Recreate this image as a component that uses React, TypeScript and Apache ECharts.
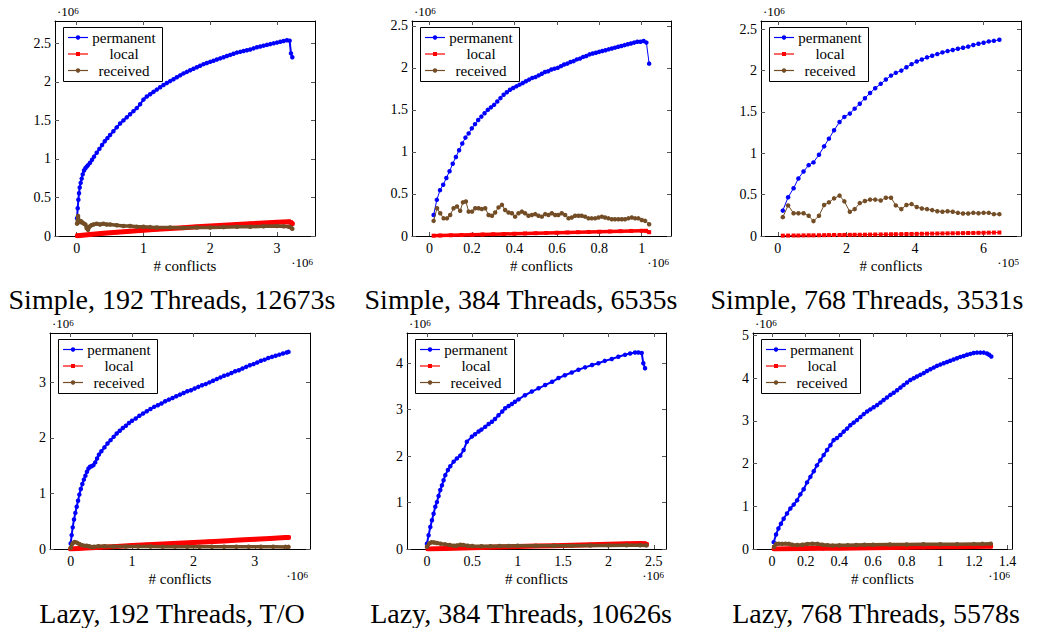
import React, { useEffect, useRef } from "react";
import * as echarts from "echarts";

const FONT = "Liberation Serif";
const BLUE = "#0000ff";
const RED = "#ff0000";
const BROWN = "#734d26";

// ---------- Data (x in units of the axis multiplier, y in 10^6) ----------
// Panel 1: Simple, 192 Threads (x ·10^6)
const p1Permanent = [[0.005,0.23],[0.015,0.36],[0.025,0.47],[0.035,0.555],[0.045,0.63],[0.06,0.69],[0.075,0.745],[0.09,0.8],[0.11,0.85],[0.13,0.88],[0.15,0.9],[0.17,0.92],[0.2,0.95],[0.23,0.99],[0.26,1.03],[0.3,1.08],[0.34,1.13],[0.38,1.18],[0.42,1.23],[0.46,1.27],[0.5,1.31],[0.55,1.36],[0.6,1.41],[0.65,1.46],[0.7,1.5],[0.75,1.54],[0.8,1.58],[0.85,1.62],[0.9,1.66],[0.95,1.71],[1.0,1.77],[1.05,1.81],[1.1,1.84],[1.15,1.87],[1.2,1.9],[1.25,1.93],[1.3,1.96],[1.35,1.985],[1.4,2.01],[1.45,2.035],[1.5,2.06],[1.55,2.085],[1.6,2.11],[1.65,2.13],[1.7,2.15],[1.75,2.17],[1.8,2.19],[1.85,2.21],[1.9,2.23],[1.95,2.245],[2.0,2.26],[2.05,2.275],[2.1,2.29],[2.15,2.305],[2.2,2.32],[2.25,2.335],[2.3,2.35],[2.35,2.365],[2.4,2.38],[2.45,2.39],[2.5,2.4],[2.55,2.41],[2.6,2.42],[2.65,2.435],[2.7,2.45],[2.75,2.46],[2.8,2.47],[2.85,2.48],[2.9,2.49],[2.95,2.5],[3.0,2.51],[3.05,2.52],[3.1,2.53],[3.15,2.54],[3.19,2.535],[3.21,2.37],[3.23,2.32]];
const p1Local = [[0.01,0.004],[0.2,0.02],[0.4,0.035],[0.6,0.049],[0.8,0.063],[1.0,0.076],[1.2,0.087],[1.4,0.098],[1.6,0.108],[1.8,0.119],[2.0,0.129],[2.2,0.139],[2.4,0.148],[2.6,0.158],[2.8,0.168],[3.0,0.178],[3.1,0.183],[3.18,0.186],[3.21,0.175],[3.23,0.16]];
const p1Received = [[0.005,0.16],[0.02,0.26],[0.035,0.2],[0.05,0.18],[0.07,0.19],[0.09,0.17],[0.11,0.16],[0.13,0.15],[0.15,0.1],[0.17,0.08],[0.19,0.12],[0.22,0.14],[0.25,0.15],[0.3,0.16],[0.35,0.15],[0.4,0.16],[0.45,0.15],[0.5,0.15],[0.6,0.14],[0.7,0.13],[0.8,0.13],[0.9,0.12],[1.0,0.12],[1.1,0.115],[1.2,0.11],[1.4,0.11],[1.6,0.105],[1.8,0.11],[2.0,0.11],[2.2,0.115],[2.4,0.12],[2.6,0.12],[2.8,0.125],[3.0,0.13],[3.1,0.125],[3.18,0.12],[3.21,0.11],[3.23,0.095]];

// Panel 2: Simple, 384 Threads (x ·10^6)
const p2Permanent = [[0.019,0.25],[0.034,0.43],[0.049,0.545],[0.064,0.61],[0.079,0.69],[0.094,0.77],[0.109,0.86],[0.124,0.94],[0.139,1.02],[0.154,1.1],[0.169,1.17],[0.184,1.22],[0.199,1.28],[0.214,1.33],[0.229,1.38],[0.244,1.42],[0.259,1.46],[0.274,1.5],[0.289,1.53],[0.304,1.56],[0.319,1.6],[0.334,1.64],[0.349,1.68],[0.364,1.71],[0.379,1.74],[0.394,1.76],[0.409,1.78],[0.424,1.8],[0.439,1.82],[0.454,1.84],[0.469,1.86],[0.484,1.88],[0.499,1.89],[0.514,1.91],[0.529,1.93],[0.544,1.95],[0.559,1.96],[0.574,1.98],[0.589,1.99],[0.604,2.0],[0.619,2.02],[0.634,2.04],[0.649,2.05],[0.664,2.07],[0.679,2.08],[0.694,2.1],[0.709,2.11],[0.724,2.13],[0.739,2.14],[0.754,2.16],[0.769,2.17],[0.784,2.18],[0.799,2.19],[0.814,2.2],[0.829,2.21],[0.844,2.22],[0.859,2.23],[0.874,2.24],[0.889,2.25],[0.904,2.26],[0.919,2.27],[0.934,2.28],[0.949,2.29],[0.964,2.3],[0.979,2.31],[0.994,2.31],[1.009,2.32],[1.022,2.3],[1.035,2.05]];
const p2Local = [[0.019,0.004],[0.05,0.006],[0.1,0.009],[0.15,0.012],[0.2,0.015],[0.25,0.018],[0.3,0.021],[0.35,0.024],[0.4,0.027],[0.45,0.03],[0.5,0.033],[0.55,0.036],[0.6,0.039],[0.65,0.042],[0.7,0.045],[0.75,0.048],[0.8,0.051],[0.85,0.054],[0.9,0.057],[0.95,0.06],[1.0,0.062],[1.02,0.062],[1.035,0.045]];
const p2Received = [[0.019,0.18],[0.035,0.33],[0.05,0.27],[0.066,0.21],[0.082,0.21],[0.097,0.25],[0.113,0.33],[0.129,0.35],[0.144,0.3],[0.157,0.4],[0.171,0.41],[0.184,0.29],[0.2,0.29],[0.215,0.33],[0.231,0.33],[0.246,0.32],[0.262,0.33],[0.278,0.25],[0.294,0.24],[0.309,0.28],[0.325,0.34],[0.341,0.37],[0.356,0.31],[0.372,0.28],[0.388,0.27],[0.403,0.23],[0.419,0.27],[0.435,0.29],[0.45,0.27],[0.466,0.24],[0.482,0.25],[0.498,0.26],[0.513,0.24],[0.529,0.23],[0.545,0.26],[0.56,0.25],[0.576,0.27],[0.592,0.25],[0.607,0.25],[0.623,0.27],[0.639,0.25],[0.655,0.21],[0.67,0.22],[0.686,0.24],[0.702,0.24],[0.717,0.24],[0.733,0.23],[0.749,0.21],[0.764,0.21],[0.78,0.21],[0.796,0.22],[0.812,0.23],[0.827,0.22],[0.843,0.21],[0.859,0.2],[0.874,0.2],[0.89,0.2],[0.906,0.2],[0.921,0.2],[0.937,0.21],[0.953,0.22],[0.969,0.21],[0.984,0.21],[1.0,0.19],[1.016,0.18],[1.035,0.14]];

// Panel 3: Simple, 768 Threads (x ·10^5)
const p3Conflicts = [0.146,0.3,0.46,0.6,0.75,0.9,1.04,1.2,1.35,1.49,1.64,1.8,1.94,2.1,2.24,2.39,2.54,2.69,2.84,3.0,3.15,3.3,3.44,3.6,3.75,3.9,4.05,4.2,4.35,4.5,4.65,4.8,4.95,5.1,5.25,5.4,5.55,5.7,5.85,6.0,6.15,6.3,6.46];
const p3PermanentY = [0.307,0.469,0.578,0.696,0.78,0.857,0.89,0.983,1.084,1.177,1.278,1.379,1.44,1.48,1.54,1.6,1.666,1.73,1.787,1.84,1.892,1.94,1.973,2.0,2.04,2.078,2.11,2.135,2.16,2.18,2.2,2.22,2.236,2.25,2.264,2.276,2.29,2.31,2.325,2.337,2.353,2.36,2.373];
const p3LocalY = [0.004,0.005,0.006,0.006,0.007,0.008,0.008,0.009,0.01,0.011,0.012,0.012,0.013,0.014,0.015,0.015,0.016,0.017,0.018,0.019,0.02,0.021,0.022,0.023,0.024,0.025,0.026,0.027,0.028,0.029,0.03,0.031,0.032,0.033,0.034,0.035,0.036,0.037,0.038,0.039,0.04,0.041,0.042];
const p3ReceivedY = [0.228,0.37,0.276,0.276,0.276,0.244,0.18,0.244,0.374,0.407,0.455,0.488,0.419,0.293,0.325,0.398,0.423,0.44,0.44,0.43,0.463,0.463,0.37,0.325,0.374,0.386,0.35,0.333,0.325,0.313,0.3,0.293,0.3,0.293,0.28,0.272,0.272,0.28,0.276,0.28,0.28,0.264,0.264];

// Panel 4: Lazy, 192 Threads (x ·10^6)
const p4Permanent = [[0.0,0.1],[0.016,0.25],[0.033,0.39],[0.054,0.53],[0.076,0.65],[0.098,0.76],[0.12,0.87],[0.141,0.98],[0.165,1.08],[0.19,1.17],[0.215,1.25],[0.24,1.32],[0.265,1.39],[0.29,1.45],[0.315,1.48],[0.34,1.49],[0.37,1.51],[0.4,1.56],[0.43,1.63],[0.46,1.7],[0.5,1.76],[0.55,1.83],[0.6,1.9],[0.65,1.96],[0.7,2.02],[0.75,2.08],[0.8,2.13],[0.85,2.18],[0.9,2.22],[0.95,2.27],[1.0,2.31],[1.06,2.35],[1.12,2.4],[1.18,2.44],[1.24,2.48],[1.3,2.52],[1.36,2.56],[1.42,2.59],[1.48,2.62],[1.54,2.66],[1.6,2.69],[1.66,2.72],[1.72,2.75],[1.78,2.78],[1.84,2.81],[1.9,2.84],[1.96,2.86],[2.02,2.89],[2.08,2.92],[2.14,2.95],[2.2,2.97],[2.26,3.0],[2.32,3.03],[2.38,3.06],[2.44,3.09],[2.5,3.12],[2.56,3.14],[2.62,3.17],[2.68,3.2],[2.74,3.22],[2.8,3.25],[2.86,3.28],[2.92,3.31],[2.98,3.33],[3.04,3.36],[3.1,3.39],[3.16,3.41],[3.22,3.44],[3.28,3.46],[3.34,3.48],[3.4,3.5],[3.46,3.52],[3.52,3.54],[3.55,3.55]];
const p4Local = [[0.0,0.0],[0.25,0.018],[0.5,0.033],[0.75,0.047],[1.0,0.062],[1.25,0.076],[1.5,0.09],[1.75,0.104],[2.0,0.118],[2.25,0.132],[2.5,0.146],[2.75,0.16],[3.0,0.174],[3.25,0.19],[3.5,0.205],[3.55,0.208]];
const p4Received = [[0.0,0.02],[0.03,0.1],[0.06,0.125],[0.1,0.115],[0.14,0.09],[0.18,0.07],[0.22,0.06],[0.26,0.06],[0.3,0.05],[0.34,0.035],[0.38,0.04],[0.45,0.05],[0.55,0.05],[0.7,0.045],[0.9,0.045],[1.1,0.045],[1.3,0.045],[1.5,0.042],[1.7,0.042],[1.9,0.04],[2.1,0.04],[2.3,0.04],[2.5,0.04],[2.7,0.04],[2.9,0.04],[3.1,0.04],[3.3,0.04],[3.5,0.038],[3.55,0.038]];

// Panel 5: Lazy, 384 Threads (x ·10^6)
const p5Permanent = [[0.0,0.115],[0.018,0.295],[0.037,0.475],[0.055,0.62],[0.073,0.76],[0.092,0.91],[0.11,1.01],[0.128,1.14],[0.147,1.27],[0.165,1.37],[0.183,1.48],[0.202,1.59],[0.231,1.7],[0.257,1.78],[0.294,1.88],[0.33,1.95],[0.367,2.01],[0.404,2.13],[0.44,2.31],[0.495,2.42],[0.53,2.47],[0.569,2.53],[0.6,2.57],[0.642,2.63],[0.68,2.69],[0.716,2.74],[0.75,2.8],[0.789,2.88],[0.83,2.96],[0.862,3.03],[0.9,3.08],[0.936,3.12],[0.97,3.17],[1.009,3.22],[1.08,3.31],[1.156,3.39],[1.23,3.46],[1.303,3.53],[1.38,3.6],[1.45,3.68],[1.52,3.74],[1.596,3.8],[1.67,3.86],[1.743,3.91],[1.82,3.96],[1.89,4.0],[1.96,4.05],[2.037,4.09],[2.11,4.14],[2.183,4.18],[2.24,4.21],[2.294,4.23],[2.33,4.23],[2.367,4.22],[2.385,4.0],[2.404,3.89]];
const p5Local = [[0.01,0.0],[0.2,0.012],[0.4,0.022],[0.6,0.032],[0.8,0.042],[1.0,0.052],[1.2,0.062],[1.4,0.072],[1.6,0.082],[1.8,0.092],[2.0,0.102],[2.2,0.112],[2.35,0.12],[2.4,0.115],[2.42,0.1]];
const p5Received = [[0.0,0.05],[0.025,0.12],[0.05,0.145],[0.08,0.14],[0.11,0.13],[0.15,0.115],[0.2,0.1],[0.25,0.085],[0.3,0.07],[0.33,0.075],[0.37,0.09],[0.4,0.085],[0.45,0.07],[0.5,0.065],[0.6,0.06],[0.7,0.06],[0.8,0.065],[0.9,0.065],[1.0,0.07],[1.2,0.07],[1.4,0.07],[1.6,0.072],[1.8,0.075],[2.0,0.078],[2.2,0.08],[2.35,0.08],[2.42,0.078]];

// Panel 6: Lazy, 768 Threads (x ·10^6)
const p6Permanent = [[0.01,0.16],[0.024,0.34],[0.038,0.48],[0.053,0.59],[0.069,0.71],[0.089,0.83],[0.109,0.95],[0.129,1.04],[0.149,1.14],[0.168,1.28],[0.188,1.4],[0.208,1.56],[0.228,1.69],[0.248,1.82],[0.267,1.96],[0.287,2.08],[0.307,2.2],[0.327,2.32],[0.347,2.43],[0.366,2.55],[0.386,2.6],[0.406,2.67],[0.426,2.75],[0.446,2.82],[0.465,2.9],[0.485,2.96],[0.505,3.02],[0.525,3.09],[0.545,3.16],[0.565,3.22],[0.584,3.27],[0.604,3.32],[0.624,3.37],[0.644,3.43],[0.663,3.49],[0.683,3.55],[0.703,3.61],[0.723,3.66],[0.743,3.72],[0.763,3.78],[0.782,3.84],[0.802,3.9],[0.822,3.96],[0.842,4.0],[0.861,4.04],[0.881,4.08],[0.901,4.12],[0.921,4.17],[0.941,4.21],[0.961,4.25],[0.98,4.29],[1.0,4.32],[1.02,4.35],[1.04,4.38],[1.059,4.41],[1.079,4.44],[1.099,4.47],[1.119,4.5],[1.139,4.52],[1.159,4.55],[1.178,4.57],[1.198,4.59],[1.218,4.6],[1.238,4.6],[1.258,4.6],[1.277,4.58],[1.29,4.55],[1.303,4.51]];
const p6Local = [[0.012,0.0],[0.1,0.005],[0.2,0.01],[0.3,0.015],[0.4,0.02],[0.5,0.025],[0.6,0.03],[0.7,0.035],[0.8,0.04],[0.9,0.045],[1.0,0.05],[1.1,0.055],[1.2,0.06],[1.3,0.062]];
const p6Received = [[0.012,0.05],[0.025,0.12],[0.04,0.125],[0.06,0.12],[0.08,0.125],[0.1,0.12],[0.12,0.1],[0.15,0.095],[0.18,0.1],[0.21,0.115],[0.24,0.125],[0.27,0.12],[0.3,0.1],[0.33,0.09],[0.36,0.08],[0.4,0.085],[0.45,0.09],[0.5,0.095],[0.55,0.1],[0.6,0.1],[0.7,0.105],[0.8,0.105],[0.9,0.11],[1.0,0.11],[1.1,0.11],[1.2,0.115],[1.25,0.12],[1.3,0.125]];

// Tick values
const xTicks1 = [0, 1, 2, 3];
const xTicks2 = [0, 0.2, 0.4, 0.6, 0.8, 1];
const xTicks3 = [0, 2, 4, 6];
const xTicks4 = [0, 1, 2, 3];
const xTicks5 = [0, 0.5, 1, 1.5, 2, 2.5];
const xTicks6 = [0, 0.2, 0.4, 0.6, 0.8, 1, 1.2, 1.4];
const yTicksSimple = [0, 0.5, 1, 1.5, 2, 2.5];
const yTicks4 = [0, 1, 2, 3];
const yTicks5 = [0, 1, 2, 3, 4];
const yTicks6 = [0, 1, 2, 3, 4, 5];

const captions = [
  "Simple, 192 Threads, 12673s",
  "Simple, 384 Threads, 6535s",
  "Simple, 768 Threads, 3531s",
  "Lazy, 192 Threads, T/O",
  "Lazy, 384 Threads, 10626s",
  "Lazy, 768 Threads, 5578s",
];
const legendNames = ["permanent", "local", "received"];
const xExponents = ["6", "6", "5", "6", "6", "6"];

const zip = (xs: number[], ys: number[]) => xs.map((x, i) => [x, ys[i]]);

type Panel = {
  left: number; top: number; width: number; height: number;
  xMin: number; xMax: number; yMax: number;
  xTicks: number[]; yTicks: number[];
  perm: number[][]; local: number[][]; recv: number[][];
  capX: number; capY: number; dense: number;
};

const panels: Panel[] = [
  { left: 55, top: 21, width: 260, height: 215, xMin: -0.325, xMax: 3.57, yMax: 2.79, xTicks: xTicks1, yTicks: yTicksSimple, perm: p1Permanent, local: p1Local, recv: p1Received, capX: 172, capY: 299, dense: 2 },
  { left: 412, top: 21, width: 259, height: 215, xMin: -0.083, xMax: 1.138, yMax: 2.557, xTicks: xTicks2, yTicks: yTicksSimple, perm: p2Permanent, local: p2Local, recv: p2Received, capX: 521, capY: 299, dense: 1 },
  { left: 761, top: 21, width: 260, height: 215, xMin: -0.49, xMax: 7.09, yMax: 2.6, xTicks: xTicks3, yTicks: yTicksSimple, perm: zip(p3Conflicts, p3PermanentY), local: zip(p3Conflicts, p3LocalY), recv: zip(p3Conflicts, p3ReceivedY), capX: 867, capY: 299, dense: 0 },
  { left: 50, top: 333, width: 260, height: 216, xMin: -0.337, xMax: 3.9, yMax: 3.89, xTicks: xTicks4, yTicks: yTicks4, perm: p4Permanent, local: p4Local, recv: p4Received, capX: 172, capY: 613, dense: 2 },
  { left: 407, top: 333, width: 259, height: 216, xMin: -0.22, xMax: 2.635, yMax: 4.65, xTicks: xTicks5, yTicks: yTicks5, perm: p5Permanent, local: p5Local, recv: p5Received, capX: 521, capY: 613, dense: 2 },
  { left: 753, top: 333, width: 259, height: 216, xMin: -0.113, xMax: 1.426, yMax: 5.06, xTicks: xTicks6, yTicks: yTicks6, perm: p6Permanent, local: p6Local, recv: p6Received, capX: 876, capY: 613, dense: 2 },
];

function expText(x: number, y: number, power: string, align: string, z: number) {
  return {
    type: "text", z, x, y,
    style: {
      text: "{a|·10}{b|" + power + "}",
      fontFamily: FONT,
      rich: {
        a: { fontFamily: FONT, fontSize: 13, fill: "#000", lineHeight: 12, verticalAlign: "bottom" },
        b: { fontFamily: FONT, fontSize: 9, fill: "#000", lineHeight: 8, verticalAlign: "top" },
      },
      fill: "#000", align, verticalAlign: "middle",
    },
  };
}

function buildOption() {
  const grid: any[] = [];
  const xAxis: any[] = [];
  const yAxis: any[] = [];
  const series: any[] = [];
  const graphic: any[] = [];
  const axisLine = { show: true, onZero: false, lineStyle: { color: "#000", width: 1 } };
  const tick = (vals: number[]) => ({ show: true, inside: true, length: 4, customValues: vals, lineStyle: { color: "#555", width: 1 } });
  const label = (vals: number[], margin: number) => ({
    show: true, customValues: vals, color: "#000", fontFamily: FONT, fontSize: 14, lineHeight: 14, margin,
    formatter: (v: number) => String(v),
  });
  const txt = (text: string, size: number) => ({ text, fill: "#000", fontFamily: FONT, fontSize: size, align: "center", verticalAlign: "middle" });

  panels.forEach((p, i) => {
    grid.push({ left: p.left, top: p.top, width: p.width, height: p.height, containLabel: false, show: false });
    xAxis.push({ type: "value", gridIndex: i, position: "bottom", min: p.xMin, max: p.xMax, axisLine, axisTick: tick(p.xTicks), axisLabel: label(p.xTicks, 5), splitLine: { show: false } });
    xAxis.push({ type: "value", gridIndex: i, position: "top", min: p.xMin, max: p.xMax, axisLine, axisTick: tick(p.xTicks), axisLabel: { show: false }, splitLine: { show: false } });
    yAxis.push({ type: "value", gridIndex: i, position: "left", min: 0, max: p.yMax, axisLine, axisTick: tick(p.yTicks), axisLabel: label(p.yTicks, 4), splitLine: { show: false } });
    yAxis.push({ type: "value", gridIndex: i, position: "right", min: 0, max: p.yMax, axisLine, axisTick: tick(p.yTicks), axisLabel: { show: false }, splitLine: { show: false } });

    const widths = p.dense === 2 ? [2, 5, 3.5] : p.dense === 1 ? [1, 3.5, 1] : [1, 1, 1];
    const defs = [
      { name: "permanent", data: p.perm, color: BLUE, symbol: "circle", size: 4.5 },
      { name: "local", data: p.local, color: RED, symbol: "rect", size: 4 },
      { name: "received", data: p.recv, color: BROWN, symbol: "circle", size: 4.5 },
    ];
    defs.forEach((d, k) => {
      series.push({
        type: "line", name: d.name, data: d.data, xAxisIndex: 2 * i, yAxisIndex: 2 * i,
        symbol: d.symbol, symbolSize: d.size, showAllSymbol: true, silent: true,
        lineStyle: { color: d.color, width: widths[k], join: "round", cap: "round" },
        itemStyle: { color: d.color }, emphasis: { disabled: true }, z: 2 + k,
      });
    });

    // legend box
    const lx = p.left + 8;
    const ly = p.top + 6;
    graphic.push({ type: "rect", z: 100, shape: { x: lx + 0.5, y: ly + 0.5, width: 99, height: 54 }, style: { fill: "#fff", stroke: "#000", lineWidth: 1 } });
    defs.forEach((d, k) => {
      const cy = ly + 10.5 + k * 16.5;
      graphic.push({ type: "line", z: 101, shape: { x1: lx + 5, y1: cy, x2: lx + 25, y2: cy }, style: { stroke: d.color, lineWidth: 1.2 } });
      if (d.symbol === "rect") {
        graphic.push({ type: "rect", z: 102, shape: { x: lx + 13, y: cy - 2, width: 4, height: 4 }, style: { fill: d.color } });
      } else {
        graphic.push({ type: "circle", z: 102, shape: { cx: lx + 15, cy, r: 2.2 }, style: { fill: d.color } });
      }
      graphic.push({ type: "text", z: 102, x: lx + 61, y: cy, style: txt(legendNames[k], 15) });
    });

    // axis annotations
    const bottom = p.top + p.height;
    graphic.push({ type: "text", z: 50, x: p.left + p.width / 2, y: bottom + 30, style: txt("# conflicts", 15) });
    graphic.push(expText(p.left + p.width - 2, bottom + 27, xExponents[i], "right", 50));
    graphic.push(expText(p.left + 2, p.top - 9, "6", "left", 50));
    graphic.push({ type: "text", z: 50, x: p.capX, y: p.capY, style: txt(captions[i], 28) });
  });

  return { animation: false, backgroundColor: "#fff", grid, xAxis, yAxis, series, graphic };
}

export default function App() {
  const ref = useRef<HTMLDivElement>(null);
  useEffect(() => {
    if (!ref.current) return;
    const chart = echarts.init(ref.current, undefined, { renderer: "svg" });
    chart.setOption(buildOption() as any);
    return () => chart.dispose();
  }, []);
  return <div ref={ref} style={{ position: "absolute", left: 0, top: 0, width: 1040, height: 628 }} />;
}
